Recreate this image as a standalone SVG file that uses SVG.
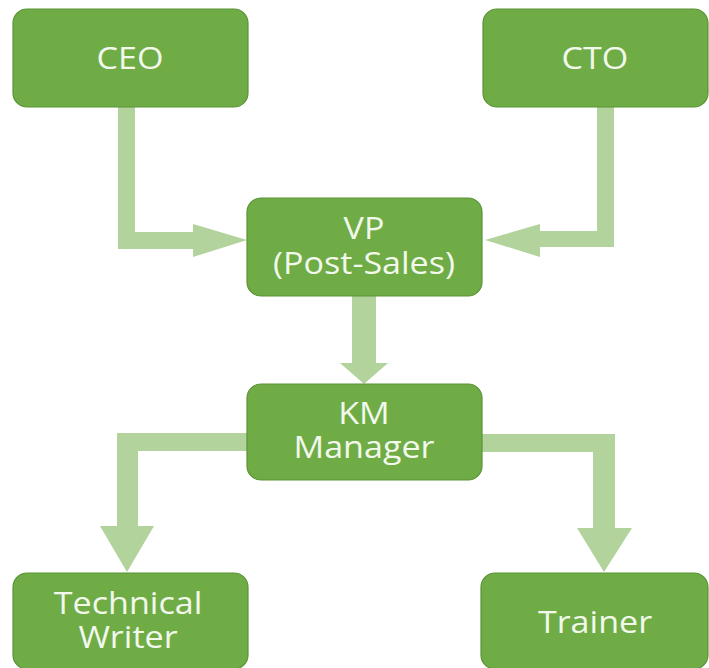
<svg xmlns="http://www.w3.org/2000/svg" width="709" height="668" viewBox="0 0 709 668">
<style>
.box{fill:#6fac46;stroke:#5a9337;stroke-width:1.2}
.lbl{font-family:"Open Sans","Noto Sans","DejaVu Sans",sans-serif;font-size:31px;fill:#f2f8ec;text-anchor:middle}
.con{fill:#b2d39b}
</style>
<rect width="709" height="668" fill="#ffffff"/>
<g id="connectors">
<polygon class="con" points="118,107 135,107 135,232 193,232 193,224 247,240 193,257 193,249 118,249"/>
<polygon class="con" points="597,107 614,107 614,247 540,247 540,257 485,240 540,224 540,231 597,231"/>
<polygon class="con" points="352,296 376,296 376,363 388,363 364,384 340,363 352,363"/>
<polygon class="con" points="247,433 247,451 138,451 138,526 154,526 127,572 100,526 117,526 117,433"/>
<polygon class="con" points="482,434 615,434 615,528 632,528 604,572 577,528 593,528 593,452 482,452"/>
</g>
<g id="ceo"><rect class="box" x="13" y="9" width="235" height="98" rx="14"/><text class="lbl" transform="matrix(1.1 0 0 1 130 69)">CEO</text></g>
<g id="cto"><rect class="box" x="483" y="9" width="225" height="98" rx="14"/><text class="lbl" transform="matrix(1.1 0 0 1 595 69)">CTO</text></g>
<g id="vp"><rect class="box" x="247" y="198" width="235" height="98" rx="14"/><text class="lbl" transform="matrix(1.1 0 0 1 364 239)">VP</text><text class="lbl" transform="matrix(1.1 0 0 1 364 274)">(Post-Sales)</text></g>
<g id="km"><rect class="box" x="247" y="384" width="235" height="96" rx="14"/><text class="lbl" transform="matrix(1.1 0 0 1 364 424)">KM</text><text class="lbl" transform="matrix(1.1 0 0 1 364 458)">Manager</text></g>
<g id="tw"><rect class="box" x="13" y="573" width="235" height="96" rx="14"/><text class="lbl" transform="matrix(1.1 0 0 1 128 614)">Technical</text><text class="lbl" transform="matrix(1.1 0 0 1 128 648)">Writer</text></g>
<g id="trainer"><rect class="box" x="481" y="573" width="227" height="96" rx="14"/><text class="lbl" transform="matrix(1.1 0 0 1 595 633)">Trainer</text></g>
</svg>
